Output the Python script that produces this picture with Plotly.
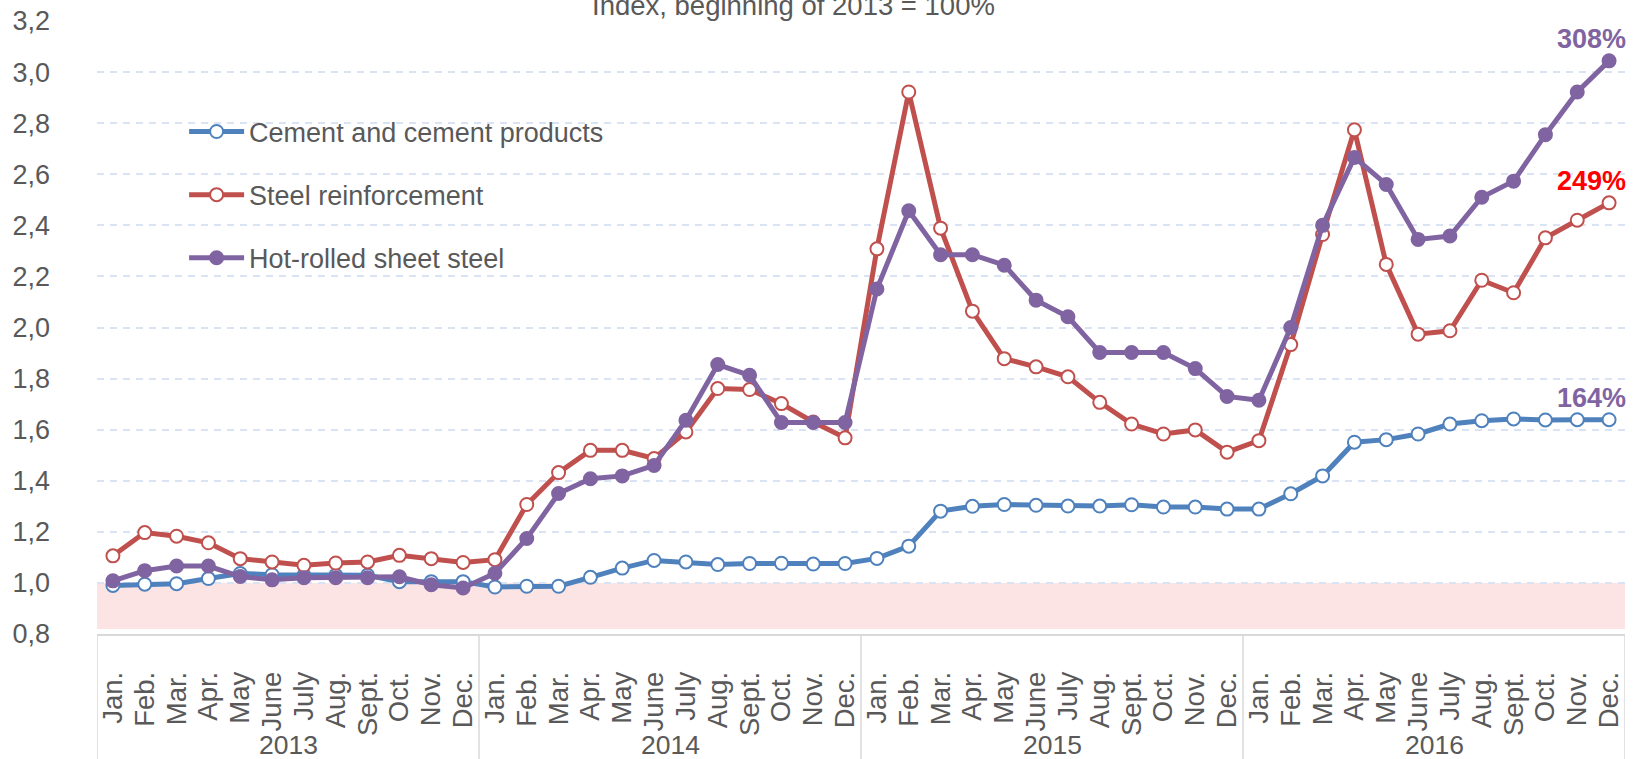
import plotly.graph_objects as go

years = ["2013", "2014", "2015", "2016"]
months = ["Jan.", "Feb.", "Mar.", "Apr.", "May", "June", "July", "Aug.", "Sept.", "Oct.", "Nov.", "Dec."]

cement = [0.990, 0.995, 0.997, 1.017, 1.037, 1.032, 1.030, 1.030, 1.030, 1.005, 1.005, 1.005,
          0.984, 0.987, 0.987, 1.022, 1.058, 1.088, 1.082, 1.072, 1.076, 1.077, 1.074, 1.076,
          1.096, 1.144, 1.281, 1.300, 1.307, 1.304, 1.301, 1.301, 1.306, 1.297, 1.297, 1.289,
          1.289, 1.349, 1.419, 1.551, 1.561, 1.583, 1.622, 1.635, 1.642, 1.638, 1.639, 1.639]
steel_reinf = [1.106, 1.197, 1.183, 1.157, 1.095, 1.082, 1.069, 1.078, 1.082, 1.108, 1.095, 1.080,
               1.091, 1.307, 1.432, 1.519, 1.519, 1.487, 1.591, 1.761, 1.757, 1.702, 1.630, 1.568,
               2.308, 2.922, 2.389, 2.064, 1.878, 1.846, 1.807, 1.707, 1.622, 1.583, 1.599, 1.512,
               1.557, 1.933, 2.364, 2.774, 2.247, 1.974, 1.987, 2.185, 2.136, 2.351, 2.420, 2.488]
hot_rolled = [1.008, 1.048, 1.066, 1.066, 1.025, 1.012, 1.020, 1.020, 1.020, 1.024, 0.993, 0.980,
              1.038, 1.174, 1.350, 1.408, 1.419, 1.460, 1.637, 1.855, 1.813, 1.628, 1.628, 1.628,
              2.151, 2.457, 2.285, 2.285, 2.244, 2.107, 2.042, 1.902, 1.902, 1.902, 1.839, 1.730,
              1.715, 2.000, 2.400, 2.666, 2.560, 2.345, 2.358, 2.510, 2.573, 2.755, 2.922, 3.044]

series_names = ["Cement and cement products", "Steel reinforcement", "Hot-rolled sheet steel"]
end_labels = ["164%", "249%", "308%"]
title_text = "Index, beginning of 2013 = 100%"
y_ticks = [0.8, 1.0, 1.2, 1.4, 1.6, 1.8, 2.0, 2.2, 2.4, 2.6, 2.8, 3.0, 3.2]

BLUE, RED, PURPLE = "#4f81bd", "#c0504d", "#8064a2"
TXT = "#595959"
FONT = "Liberation Sans, Arial, sans-serif"

n = len(years) * len(months)
xs = list(range(n))
tick_text = [m for _ in years for m in months]

fig = go.Figure()
specs = [
    (cement, series_names[0], BLUE, "white", "legend"),
    (steel_reinf, series_names[1], RED, "white", "legend2"),
    (hot_rolled, series_names[2], PURPLE, PURPLE, "legend3"),
]
for vals, name, col, fill, leg in specs:
    fig.add_trace(go.Scatter(
        x=xs, y=vals, name=name, mode="lines+markers",
        line=dict(color=col, width=5),
        marker=dict(symbol="circle", size=13, color=fill, line=dict(color=col, width=2)),
        legend=leg, cliponaxis=False, showlegend=True,
    ))

# end-of-series labels
label_specs = [(cement, end_labels[0], PURPLE), (steel_reinf, end_labels[1], "#ff0000"),
               (hot_rolled, end_labels[2], PURPLE)]
for vals, txt, col in label_specs:
    fig.add_annotation(x=xs[-1], y=vals[-1], text="<b>%s</b>" % txt, showarrow=False,
                       xanchor="right", yanchor="middle", xshift=19, yshift=22,
                       font=dict(size=27, color=col, family=FONT))

# title (partially cut off at the top as in reference)
fig.add_annotation(xref="paper", yref="paper", x=0.456, y=1, text=title_text, showarrow=False,
                   xanchor="center", yanchor="middle", yshift=16,
                   font=dict(size=27.5, color=TXT, family=FONT))

# year group labels and separators
for i, yr in enumerate(years):
    c = i * len(months) + (len(months) - 1) / 2
    fig.add_annotation(x=c, yref="paper", y=-0.181, text=yr, showarrow=False,
                       xanchor="center", yanchor="middle",
                       font=dict(size=26.5, color=TXT, family=FONT))
for i in range(len(years) + 1):
    xb = i * len(months) - 0.5
    fig.add_shape(type="line", xref="x", yref="paper", x0=xb, x1=xb, y0=0, y1=-0.25,
                  line=dict(color="#d9d9d9", width=1.5), layer="above")

# pink band below 1.0
fig.add_shape(type="rect", xref="paper", yref="y", x0=0, x1=1, y0=0.82, y1=1.0,
              fillcolor="#fde4e4", line=dict(width=0), layer="below")
# white background behind legend (covers gridlines)
fig.add_shape(type="rect", xref="paper", yref="paper", x0=0.0025, x1=0.393, y0=0.55, y1=0.90,
              fillcolor="white", line=dict(width=0), layer="between")

leg_common = dict(font=dict(size=27, color=TXT, family=FONT), bgcolor="rgba(0,0,0,0)",
                  xanchor="left", yanchor="middle", itemwidth=55, borderwidth=0, visible=True)
fig.update_layout(
    showlegend=True,
    legend=dict(x=0.057, y=0.819, **leg_common),
    legend2=dict(x=0.057, y=0.716, **leg_common),
    legend3=dict(x=0.057, y=0.613, **leg_common),
)

fig.update_layout(
    width=1633, height=759,
    margin=dict(l=97, r=8, t=21, b=125, autoexpand=False),
    paper_bgcolor="white", plot_bgcolor="white",
    separators=", ",
    font=dict(family=FONT, color=TXT),
    xaxis=dict(range=[-0.5, n - 0.5], tickvals=xs, ticktext=tick_text, tickangle=-90,
               tickfont=dict(size=27.5, color=TXT, family=FONT), showgrid=False,
               showline=True, linecolor="#d9d9d9", linewidth=1.5, ticks="",
               ticklabelstandoff=25, zeroline=False, fixedrange=True, automargin=False),
    yaxis=dict(range=[0.8, 3.2], tickvals=y_ticks, tickformat=".1f",
               tickfont=dict(size=27, color=TXT, family=FONT),
               showgrid=True, gridcolor="#dae3f3", gridwidth=1.5, griddash="7px,6px",
               zeroline=False, showline=False, ticks="", ticklabelstandoff=46,
               fixedrange=True, automargin=False),
)

fig.write_html("out.html", config={"displayModeBar": False, "responsive": False},
               post_script="document.body.style.margin='0px';"
                           "document.documentElement.style.overflow='hidden';")
